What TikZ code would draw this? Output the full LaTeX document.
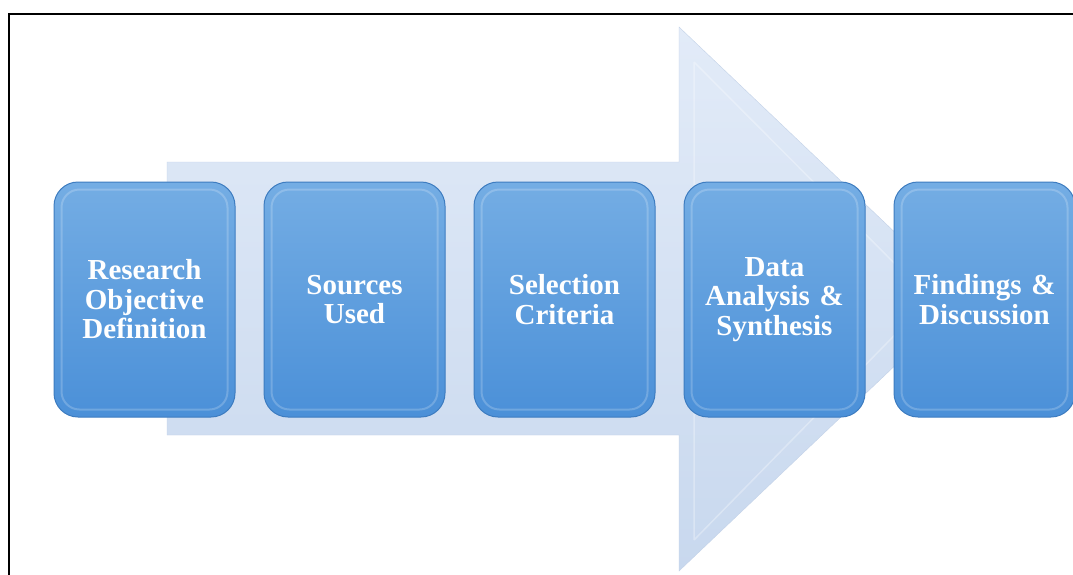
\documentclass[tikz,border=0pt]{standalone}
\usepackage{fontspec}
\setmainfont{Liberation Serif}
\usetikzlibrary{positioning}

\definecolor{boxtop}{HTML}{74ADE4}
\definecolor{boxbot}{HTML}{4B90D8}
\definecolor{boxedge}{HTML}{3D7CC0}
\definecolor{arrtop}{HTML}{E2EBF8}
\definecolor{arrbot}{HTML}{C8D8EE}
\definecolor{arredge}{HTML}{C3D2E8}

\begin{document}
\begin{tikzpicture}[x=1pt,y=-1pt,
  stage/.style={rectangle,rounded corners=24pt,minimum width=181pt,minimum height=235pt,
    text width=176pt,align=center,inner sep=0pt,top color=boxtop,bottom color=boxbot,
    draw=boxedge,line width=1pt,text=white,font=\bfseries\fontsize{29}{29.5}\selectfont},
  bevel/.style={rounded corners=18pt,draw=white,opacity=0.2,line width=2pt}]
\useasboundingbox (0,0) rectangle (1073,574);
\clip (0,0) rectangle (1073,574);
\fill[white] (0,0) rectangle (1073,574);
\draw[line width=2pt] (9,14) rectangle (1090,600);
% big arrow behind the stages
\draw[arredge,top color=arrtop,bottom color=arrbot]
  (167,162) -- (679,162) -- (679,27) -- (965,299) -- (679,571) -- (679,435) -- (167,435) -- cycle;
\draw[white,opacity=0.3,line width=1.5pt]
  (694,62) -- (694,540) (694,62) -- (930,299) -- (694,540);
% stages
\node[stage] (a) at (144.5,299.5) {Research\\Objective\\Definition};
\node[stage,right=28pt of a] (b) {Sources\\Used};
\node[stage,right=28pt of b] (c) {Selection\\Criteria};
\node[stage,right=28pt of c] (d) {Data\\Analysis \&\\Synthesis};
\node[stage,right=28pt of d] (e) {Findings \&\\Discussion};
\foreach \n in {a,b,c,d,e}
  \draw[bevel] ([shift={(8,8)}]\n.north west) rectangle ([shift={(-8,-8)}]\n.south east);
\end{tikzpicture}
\end{document}
